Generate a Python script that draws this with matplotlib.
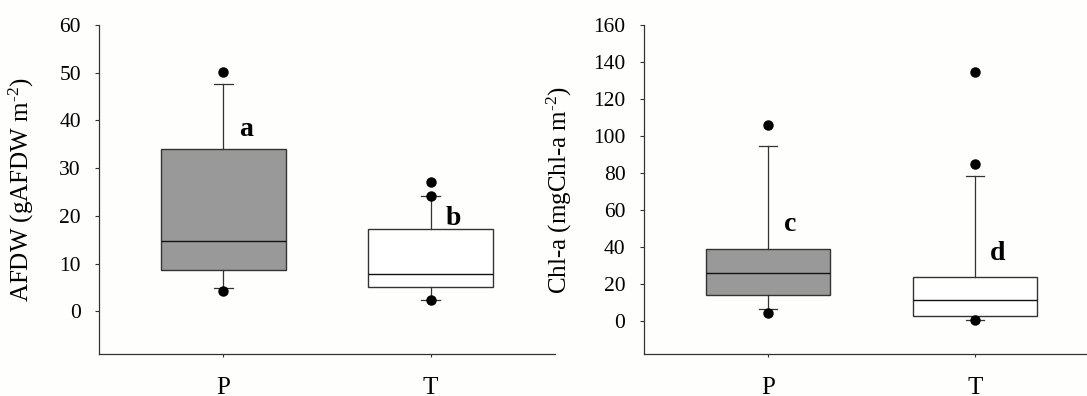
import matplotlib
matplotlib.use('Agg')
import matplotlib.pyplot as plt

plt.rcParams['font.family'] = ['Liberation Serif', 'DejaVu Serif']
plt.rcParams['mathtext.default'] = 'regular'

groups = ['P', 'T']
box_colors = ['#999999', '#ffffff']

# AFDW (gAFDW m-2): whisker low, Q1, median, Q3, whisker high
afdw_whislo = [4.9, 2.3]
afdw_q1 = [8.7, 5.2]
afdw_med = [14.7, 7.8]
afdw_q3 = [34.0, 17.3]
afdw_whishi = [47.6, 24.1]
afdw_fliers = [[50.1, 4.2], [27.0, 24.1, 2.3]]
afdw_letters = ['a', 'b']
afdw_letter_y = [38.0, 19.5]

# Chl-a (mgChl-a m-2)
chla_whislo = [6.3, 0.5]
chla_q1 = [14.1, 2.5]
chla_med = [25.7, 11.4]
chla_q3 = [39.0, 24.0]
chla_whishi = [94.8, 78.2]
chla_fliers = [[106.2, 4.5], [134.6, 85.1, 0.5]]
chla_letters = ['c', 'd']
chla_letter_y = [52.0, 36.7]

line_col = '#333333'
bg = '#fefefc'


def make_stats(whislo, q1, med, q3, whishi, fliers):
    stats = []
    for i in range(len(groups)):
        stats.append(dict(whislo=whislo[i], q1=q1[i], med=med[i], q3=q3[i],
                          whishi=whishi[i], fliers=fliers[i], label=groups[i]))
    return stats


def draw_panel(ax, stats, ylim, yticks, ylabel, label_x, letters, letter_y):
    bp = ax.bxp(stats, positions=[1, 2], widths=0.6, patch_artist=True,
                capwidths=0.09, showfliers=True,
                boxprops=dict(linewidth=1.0, edgecolor=line_col),
                medianprops=dict(color='#111111', linewidth=1.0),
                whiskerprops=dict(color=line_col, linewidth=0.9),
                capprops=dict(color=line_col, linewidth=0.9),
                flierprops=dict(marker='o', markerfacecolor='black',
                                markeredgecolor='black', markersize=6.5))
    for patch, c in zip(bp['boxes'], box_colors):
        patch.set_facecolor(c)

    ax.set_xlim(0.4, 2.6)
    ax.set_ylim(*ylim)
    ax.set_yticks(yticks)
    ax.set_xticks([1, 2])
    ax.set_xticklabels(groups)
    ax.set_ylabel(ylabel, fontsize=18)
    ax.yaxis.set_label_coords(label_x, 0.5)
    ax.tick_params(axis='y', direction='out', length=3, width=0.8,
                   color=line_col, labelsize=15.5, pad=10)
    ax.tick_params(axis='x', direction='out', length=2.5, width=0.8,
                   color=line_col, labelsize=18, pad=14)
    for side in ['top', 'right']:
        ax.spines[side].set_visible(False)
    for side in ['left', 'bottom']:
        ax.spines[side].set_color(line_col)
        ax.spines[side].set_linewidth(0.9)
    ax.spines['left'].set_bounds(ylim[0], yticks[-1])
    ax.set_facecolor(bg)

    for x, lab, y in zip([1.11, 2.11], letters, letter_y):
        ax.text(x, y, lab, fontsize=20, fontweight='bold',
                ha='center', va='center')


fig = plt.figure(figsize=(10.87, 3.96), dpi=100, facecolor=bg)
ax1 = fig.add_axes([0.0911, 0.1053, 0.4195, 0.8316])
ax2 = fig.add_axes([0.5920, 0.1053, 0.4195, 0.8316])

draw_panel(ax1, make_stats(afdw_whislo, afdw_q1, afdw_med, afdw_q3, afdw_whishi, afdw_fliers),
           (-9, 60), list(range(0, 61, 10)), 'AFDW (gAFDW m$^{\u20102}$)', -0.138,
           afdw_letters, afdw_letter_y)
draw_panel(ax2, make_stats(chla_whislo, chla_q1, chla_med, chla_q3, chla_whishi, chla_fliers),
           (-18, 160), list(range(0, 161, 20)), 'Chl-a (mgChl-a m$^{\u20102}$)', -0.152,
           chla_letters, chla_letter_y)

fig.savefig('out.png', dpi=100, facecolor=bg)
